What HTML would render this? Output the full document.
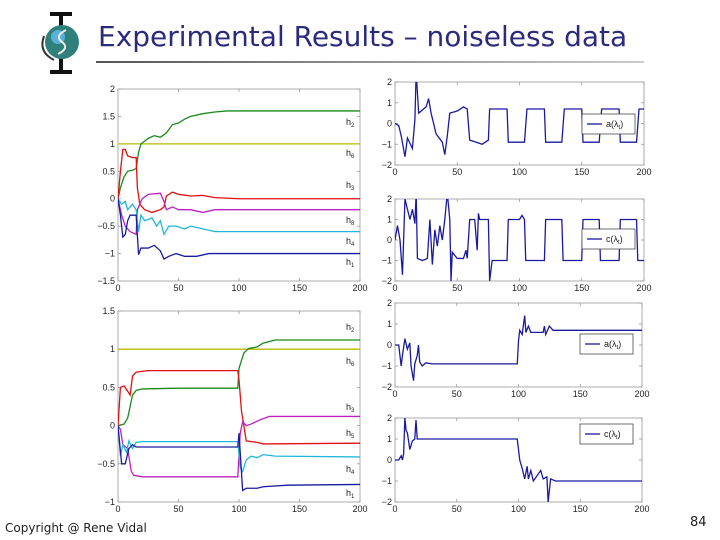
<!DOCTYPE html>
<html><head><meta charset="utf-8">
<style>
body{margin:0;background:#fff;width:720px;height:540px;overflow:hidden;position:relative;font-family:"Liberation Sans",sans-serif}
#title{position:absolute;left:98px;top:20px;font-size:28px;color:#2b2b7e;font-family:"DejaVu Sans","Liberation Sans",sans-serif;letter-spacing:0px}
#rule{position:absolute;left:96px;top:61px;width:548px;height:2px;background:linear-gradient(90deg,#555,#ccc)}
#copy{position:absolute;left:5px;top:521px;font-size:12px;color:#222;font-family:"DejaVu Sans",sans-serif}
#pg{position:absolute;left:690px;top:515px;font-size:13px;color:#222;font-family:"DejaVu Sans",sans-serif}
svg{position:absolute;left:0;top:0}
</style></head><body>
<div id="title">Experimental Results – noiseless data</div>
<div id="rule"></div>
<div id="copy">Copyright @ Rene Vidal</div>
<div id="pg">84</div>
<svg id="s" width="720" height="540">
<g>
<path d="M50 14 L72 14 M61 14 L61 72 M50 72 L72 72" stroke="#111" stroke-width="4" fill="none"/>
<circle cx="62" cy="42" r="17" fill="#2f7f7a"/>
<circle cx="58" cy="37" r="7" fill="#5bb0d8"/>
<path d="M66 30 Q54 36 62 42 Q70 48 58 54" stroke="#eee" stroke-width="2" fill="none"/>
<path d="M44 36 Q38 52 54 60" stroke="#333" stroke-width="2" fill="none"/>
</g>
</svg>
<script>
// ---- data ----
const xTicks=[0,50,100,150,200];
const tlYTicks=[-1.5,-1,-0.5,0,0.5,1,1.5,2];
const blYTicks=[-1,-0.5,0,0.5,1,1.5];
const rYTicks=[-2,-1,0,1,2];
const tlH2=[[0,0],[2,0.2],[5,0.4],[8,0.5],[12,0.52],[15,0.55],[17,0.85],[19,1.0],[22,1.05],[25,1.1],[30,1.15],[35,1.12],[40,1.2],[45,1.35],[50,1.38],[55,1.45],[60,1.5],[70,1.55],[80,1.58],[90,1.6],[200,1.6]];
const tlH6=[[0,1],[200,1]];
const tlH3=[[0,0],[2,0.5],[4,0.9],[6,0.9],[8,0.78],[12,0.75],[15,0.75],[16,0.2],[18,-0.1],[22,-0.2],[28,-0.25],[35,-0.2],[38,-0.15],[40,0.05],[45,0.12],[50,0.08],[60,0.05],[70,0.06],[80,0.02],[100,0],[200,0]];
const tlH5=[[0,0],[3,-0.3],[6,-0.5],[10,-0.6],[15,-0.65],[16,-0.2],[20,0],[25,0.08],[35,0.1],[38,-0.05],[40,-0.2],[45,-0.15],[50,-0.2],[60,-0.2],[70,-0.25],[80,-0.2],[100,-0.2],[200,-0.2]];
const tlH8=[[0,0],[3,-0.1],[6,-0.05],[8,-0.2],[12,-0.1],[15,-0.2],[17,-0.6],[19,-0.3],[22,-0.4],[28,-0.35],[32,-0.5],[35,-0.4],[38,-0.65],[42,-0.5],[48,-0.5],[55,-0.55],[60,-0.5],[70,-0.55],[80,-0.6],[200,-0.6]];
const tlH1=[[0,0],[2,-0.3],[4,-0.7],[6,-0.65],[8,-0.4],[10,-0.3],[15,-0.3],[17,-1.02],[19,-0.9],[25,-0.9],[30,-0.85],[35,-0.95],[38,-1.1],[42,-1.05],[48,-1.0],[55,-1.05],[65,-1.05],[75,-1.0],[200,-1.0]];
const blH2=[[0,0],[5,0.02],[8,0.1],[10,0.25],[12,0.4],[15,0.46],[20,0.48],[50,0.49],[99,0.49],[100,0.75],[102,0.85],[104,0.95],[108,1.01],[115,1.03],[120,1.08],[130,1.12],[200,1.12]];
const blH6=[[0,1],[200,1]];
const blH3=[[0,0],[2,0.5],[5,0.52],[8,0.45],[10,0.4],[12,0.65],[15,0.7],[25,0.72],[99,0.72],[100,0.6],[102,0.2],[104,0],[106,-0.2],[115,-0.22],[120,-0.24],[200,-0.23]];
const blH5=[[0,0],[2,-0.05],[4,-0.25],[8,-0.3],[11,-0.6],[13,-0.65],[20,-0.67],[99,-0.67],[101,-0.1],[103,0.05],[106,0],[110,0.02],[118,0.08],[125,0.12],[200,0.12]];
const blH4=[[0,0],[2,-0.4],[4,-0.25],[7,-0.35],[9,-0.2],[12,-0.3],[15,-0.22],[20,-0.21],[99,-0.21],[101,-0.55],[103,-0.6],[106,-0.45],[110,-0.4],[115,-0.42],[120,-0.38],[130,-0.4],[200,-0.41]];
const blH1=[[0,0],[3,-0.5],[6,-0.5],[9,-0.3],[12,-0.25],[15,-0.28],[20,-0.28],[99,-0.28],[100,-0.1],[103,-0.85],[106,-0.82],[115,-0.82],[120,-0.8],[140,-0.78],[200,-0.77]];
const trA=[[0,0],[3,-0.1],[5,-0.6],[8,-1.6],[10,-0.7],[14,-1.2],[16,0.2],[17,2.5],[19,0.5],[25,0.8],[27,1.2],[29,0.5],[33,-0.5],[38,-0.9],[40,-1.5],[42,-0.6],[44,0.5],[50,0.6],[55,0.8],[58,0.7],[60,-0.8],[65,-0.9],[70,-1.0],[75,-0.8],[76,0.7],[90,0.7],[91,-0.9],[104,-0.9],[106,0.7],[120,0.7],[121,-0.9],[134,-0.9],[136,0.7],[150,0.7],[151,-0.9],[164,-0.9],[166,0.7],[180,0.7],[181,-0.9],[194,-0.9],[196,0.7],[200,0.7]];
const trC=[[0,0],[2,0.7],[4,0],[6,-1.7],[8,2],[10,1.5],[12,1],[14,1.5],[16,0.8],[17,2.3],[18,-0.9],[22,-1],[26,-0.9],[28,1],[30,-1.2],[32,0.5],[34,-0.3],[36,0.7],[38,0],[40,1],[42,2.3],[44,1],[45,-2],[46,-0.6],[50,-0.9],[55,-0.9],[57,-0.5],[58,-0.9],[60,1],[64,1],[66,-0.5],[67,1.3],[68,1],[75,1],[76,-2],[78,-1],[90,-1],[91,1],[100,1],[102,1.2],[104,1],[105,-1],[120,-1],[121,1],[134,1],[135,-1],[150,-1],[151,1],[164,1],[165,-1],[180,-1],[181,1],[194,1],[195,-1],[200,-1]];
const brA=[[0,0],[3,0],[5,-1],[6,-0.5],[8,0.3],[10,-0.2],[12,0.1],[13,-1],[15,-1.7],[16,-0.9],[18,-0.5],[19,0],[20,-0.8],[22,-1],[25,-0.85],[30,-0.9],[99,-0.9],[100,0.2],[101,0.7],[103,0.5],[105,1.4],[106,0.6],[108,0.9],[110,0.6],[120,0.6],[121,0.9],[122,0.5],[125,0.9],[128,0.7],[200,0.7]];
const brC=[[0,0],[3,0],[5,0.2],[6,0],[7,0.3],[8,2],[9,1.4],[10,1.3],[12,0.5],[14,0.9],[16,1],[17,1.9],[18,1],[22,1],[99,1],[101,0],[103,-0.4],[105,-0.9],[107,-0.3],[108,-0.9],[110,-0.5],[112,-1],[118,-0.5],[120,-0.9],[123,-0.8],[124,-2],[126,-0.9],[130,-1],[200,-1]];

const S=document.getElementById('s');const NS='http://www.w3.org/2000/svg';
function mk(t,a,p){const e=document.createElementNS(NS,t);for(const k in a)e.setAttribute(k,a[k]);(p||S).appendChild(e);return e;}
function fmt(v){return (v<0?'\u2212':'')+Math.abs(v);}
function chart(name,x0,x1,y0,y1,ymin,ymax,yt,series,labels,legend){
  const g=mk('g',{});
  
  
  const X=v=>x0+(v-0)/200*(x1-x0), Y=v=>y1-(v-ymin)/(ymax-ymin)*(y1-y0);
  const cp='c'+name;const c=mk('clipPath',{id:cp},g);mk('rect',{x:x0,y:y0,width:x1-x0,height:y1-y0},c);
  mk('rect',{x:x0,y:y0,width:x1-x0,height:y1-y0,fill:'#fff',stroke:'#999','stroke-width':0.8},g);
  xTicks.forEach(t=>{const x=X(t);mk('line',{x1:x,x2:x,y1:y1,y2:y1-3,stroke:'#999','stroke-width':0.8},g);mk('line',{x1:x,x2:x,y1:y0,y2:y0+3,stroke:'#999','stroke-width':0.8},g);
    const tx=mk('text',{x:x,y:y1+10,'font-size':9,'text-anchor':'middle',fill:'#222'},g);tx.textContent=t;});
  yt.forEach(t=>{const y=Y(t);mk('line',{x1:x0,x2:x0+3,y1:y,y2:y,stroke:'#999','stroke-width':0.8},g);mk('line',{x1:x1,x2:x1-3,y1:y,y2:y,stroke:'#999','stroke-width':0.8},g);
    const tx=mk('text',{x:x0-3,y:y+3,'font-size':9,'text-anchor':'end',fill:'#222'},g);tx.textContent=fmt(t);});
  series.forEach(([d,col])=>{const p=mk('polyline',{points:d.map(q=>X(q[0])+','+Y(q[1])).join(' '),fill:'none',stroke:col,'stroke-width':1.3,'clip-path':'url(#'+cp+')'},g);
    
    });
  (labels||[]).forEach(([txt,sub,py])=>{const tx=mk('text',{x:x1-14,y:py,'font-size':9,fill:'#222'},g);tx.textContent=txt;const s=mk('tspan',{dy:2,'font-size':6},tx);s.textContent=sub;});
  if(legend){const [lx,ly,lbl]=legend;const lg=mk('g',{},g);
    
    
    mk('rect',{x:lx,y:ly,width:53,height:20,fill:'#fff',stroke:'#333','stroke-width':0.7},lg);
    mk('line',{x1:lx+5,x2:lx+20,y1:ly+10,y2:ly+10,stroke:'#1a1aa0','stroke-width':1.3},lg);
    const tx=mk('text',{x:lx+24,y:ly+13,'font-size':9,fill:'#222'},lg);tx.textContent=lbl+'(λ';const s=mk('tspan',{dy:2,'font-size':6},tx);s.textContent='t';const s2=mk('tspan',{dy:-2},tx);s2.textContent=')';}
}
const G='#1a8a1a',Yl='#b8b800',R='#e01010',M='#c020c0',C='#20b8d8',B='#1a1aa0';
chart('top-left-chart',118,360,89,281,-1.5,2,tlYTicks,[[tlH6,Yl],[tlH2,G],[tlH3,R],[tlH5,M],[tlH8,C],[tlH1,B]],
 [['h','2',125],['h','6',156],['h','3',188],['h','8',223],['h','4',244],['h','1',265]]);
chart('bottom-left-chart',118,360,311,502,-1,1.5,blYTicks,[[blH6,Yl],[blH2,G],[blH3,R],[blH5,M],[blH4,C],[blH1,B]],
 [['h','2',330],['h','6',364],['h','3',410],['h','5',436],['h','4',472],['h','1',496]]);
chart('top-right-a-chart',395,644,82,165,-2,2,rYTicks,[[trA,B]],null,[582,114,'a']);
chart('top-right-c-chart',395,644,199,281,-2,2,rYTicks,[[trC,B]],null,[582,229,'c']);
chart('bottom-right-a-chart',395,642,303,387,-2,2,rYTicks,[[brA,B]],null,[580,334,'a']);
chart('bottom-right-c-chart',395,642,418,502,-2,2,rYTicks,[[brC,B]],null,[580,424,'c']);
</script>
</body></html>
